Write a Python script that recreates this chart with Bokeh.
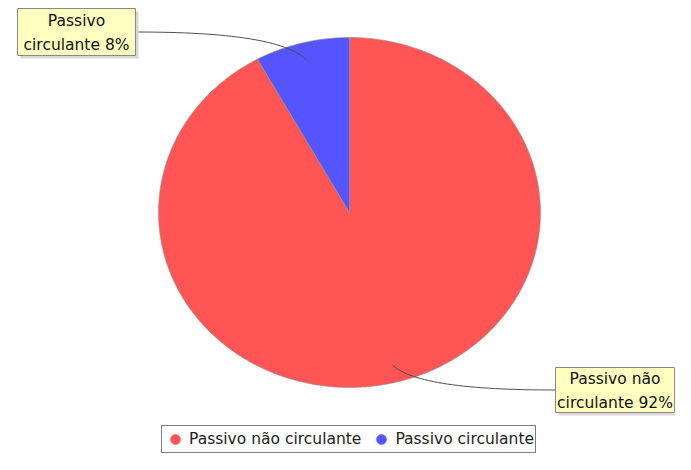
import numpy as np
from bokeh.plotting import figure
from bokeh.models import Range1d, Legend, LegendItem
from bokeh.embed import file_html
from bokeh.resources import INLINE
from bokeh.core.properties import value

# ---- data ----
categories = ["Passivo não circulante", "Passivo circulante"]
values = [92, 8]
colors = ["#FF5555", "#5555FF"]

# ---- layout (image pixel coordinates) ----
W, H = 675, 454
CX, CY, RX, RY = 349, 212, 191, 175
ANCHOR_F = 0.9
# label boxes: (left, top, right, bottom)
label_boxes = [(555, 367, 674, 412), (17, 8, 135, 55)]
FONT = "DejaVu Sans"
FS = "15.5px"

p = figure(width=W, height=H, x_range=Range1d(0, W), y_range=Range1d(H, 0),
           output_backend="svg", toolbar_location=None, min_border=0,
           x_axis_location=None, y_axis_location=None)
p.grid.visible = False
p.outline_line_color = None
p.background_fill_color = "white"
p.border_fill_color = "white"

total = float(sum(values))
start = np.pi / 2
xs, ys, mids = [], [], []
for v in values:
    sweep = 2 * np.pi * v / total
    end = start - sweep
    t = np.linspace(start, end, max(int(sweep * 80), 12))
    xs.append([CX] + list(CX + RX * np.cos(t)) + [CX])
    ys.append([CY] + list(CY - RY * np.sin(t)) + [CY])
    mids.append((start + end) / 2)
    start = end

p.patches(xs, ys, fill_color=colors, line_color="#909090", line_width=0.6)

# ---- labels with leader curves ----
for cat, v, mid, box in zip(categories, values, mids, label_boxes):
    pct = round(100 * v / total)
    words = cat.split()
    text = " ".join(words[:-1]) + "\n" + f"{words[-1]} {pct}%"
    l, tp, r, b = box
    ax = CX + ANCHOR_F * RX * np.cos(mid)
    ay = CY - ANCHOR_F * RY * np.sin(mid)
    sx = r if (l + r) / 2 < CX else l
    sy = (tp + b) / 2
    dx = ax - sx
    p.bezier(x0=[sx], y0=[sy], x1=[ax], y1=[ay],
             cx0=[sx + 0.55 * dx], cy0=[sy],
             cx1=[ax - 0.12 * dx], cy1=[ay + 0.7 * (sy - ay)],
             line_color="#505050", line_width=1)
    p.quad(left=[l + 3], right=[r + 3], top=[tp + 3], bottom=[b + 3],
           fill_color="#D8D8D8", line_color=None)
    p.quad(left=[l], right=[r], top=[tp], bottom=[b],
           fill_color="#FFFFC0", line_color="#8A8A8A", line_width=1)
    p.text(x=[(l + r) / 2], y=[(tp + b) / 2 + 1], text=[text],
           text_align="center", text_baseline="middle",
           text_font=value(FONT), text_font_size=FS, text_color="#111111",
           text_line_height=1.3)

# ---- legend ----
rs = [p.scatter(x=[CX], y=[CY], size=0, marker="circle", fill_color=c, line_color=c)
      for c in colors]
legend = Legend(items=[LegendItem(label=cat, renderers=[r]) for cat, r in zip(categories, rs)],
                orientation="horizontal", location=(161, 1),
                glyph_width=24, glyph_height=24, padding=1, spacing=8,
                label_standoff=2, border_line_color="black", border_line_width=1,
                label_text_font=FONT, label_text_font_size=FS,
                label_text_color="#222222", margin=0)
p.add_layout(legend)

open("out.html", "w").write(file_html(p, INLINE))
